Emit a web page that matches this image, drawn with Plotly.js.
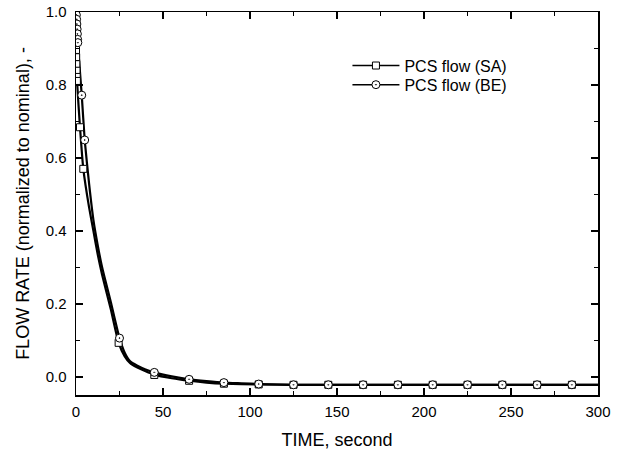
<!DOCTYPE html>
<html>
<head>
<meta charset="utf-8">
<script src="https://cdn.plot.ly/plotly-3.0.1.min.js"></script>
<style>html,body{margin:0;padding:0;background:#fff;}#chart{width:626px;height:451px;}</style>
</head>
<body>
<div id="chart"></div>
<script>
// Curve of PCS flow (SA) — time (s) and normalized flow
var saCurveT = [0, 0.6, 2.3, 4.2, 7.5, 10, 12.5, 15, 20, 24.5, 28, 31, 35, 40, 45, 55, 65, 75, 85, 105, 125, 300];
var saCurveY = [0.90, 0.81, 0.684, 0.57, 0.465, 0.40, 0.335, 0.28, 0.185, 0.093, 0.056, 0.038, 0.026, 0.015, 0.006, -0.004, -0.011, -0.016, -0.019, -0.021, -0.022, -0.022];
// Curve of PCS flow (BE)
var beCurveT = [0, 0.5, 1.0, 3.3, 5, 7.5, 10, 12.5, 15, 20, 25, 28, 31, 35, 40, 45, 55, 65, 75, 85, 95, 105, 125, 300];
var beCurveY = [1.0, 0.95, 0.915, 0.772, 0.649, 0.53, 0.43, 0.36, 0.30, 0.205, 0.106, 0.066, 0.043, 0.031, 0.02, 0.012, 0.001, -0.007, -0.012, -0.016, -0.018, -0.02, -0.022, -0.022];

// Marker points
var saMarkT = [0, 0.1, 0.2, 0.3, 0.4, 0.5, 2.3, 4.2, 24.5, 45, 65, 85, 105, 125, 145, 165, 185, 205, 225, 245, 265, 285];
var saMarkY = [0.896, 0.876, 0.857, 0.839, 0.822, 0.811, 0.684, 0.57, 0.093, 0.005, -0.011, -0.019, -0.021, -0.022, -0.022, -0.022, -0.022, -0.022, -0.022, -0.022, -0.022, -0.022];
var beMarkT = [0.2, 0.35, 0.5, 0.65, 0.8, 0.95, 1.05, 3.3, 5, 25, 45, 65, 85, 105, 125, 145, 165, 185, 205, 225, 245, 265, 285];
var beMarkY = [0.992, 0.98, 0.967, 0.953, 0.94, 0.925, 0.916, 0.772, 0.649, 0.106, 0.012, -0.007, -0.016, -0.02, -0.022, -0.022, -0.022, -0.022, -0.022, -0.022, -0.022, -0.022, -0.022];

var seriesNames = ['PCS flow (SA)', 'PCS flow (BE)'];

var FONT = 'Liberation Sans, Arial, sans-serif';
var lineStyle = {color: '#000', width: 2.2, shape: 'spline', smoothing: 0.5};
var sqMarker = {symbol: 'square', size: 7, color: '#fff', line: {color: '#000', width: 1}};
var ciMarker = {symbol: 'circle-dot', size: 8, color: '#fff', line: {color: '#000', width: 1}};

var traces = [
  {x: saCurveT, y: saCurveY, mode: 'lines', line: lineStyle, showlegend: false, hoverinfo: 'skip'},
  {x: beCurveT, y: beCurveY, mode: 'lines', line: lineStyle, showlegend: false, hoverinfo: 'skip'},
  {x: saMarkT, y: saMarkY, mode: 'markers', marker: sqMarker, showlegend: false},
  {x: beMarkT, y: beMarkY, mode: 'markers', marker: ciMarker, showlegend: false},
  {x: [null], y: [null], mode: 'lines+markers', name: seriesNames[0], line: {color: '#000', width: 1.5}, marker: sqMarker, legend: 'legend'},
  {x: [null], y: [null], mode: 'lines+markers', name: seriesNames[1], line: {color: '#000', width: 1.5}, marker: ciMarker, legend: 'legend2'}
];

var axisCommon = {
  showgrid: false, zeroline: false, showline: true, linecolor: '#000', linewidth: 1.5,
  mirror: 'ticks', ticks: 'inside', ticklen: 7, tickwidth: 1.5, tickcolor: '#000',
  tickfont: {family: FONT, size: 15, color: '#000'}
};

var legendCommon = {x: 0.52, xanchor: 'left', yanchor: 'middle', bgcolor: 'rgba(0,0,0,0)',
  font: {family: FONT, size: 16, color: '#000'}, itemwidth: 47};

var layout = {
  width: 626, height: 451,
  margin: {l: 76, r: 28, t: 12, b: 56},
  paper_bgcolor: '#fff', plot_bgcolor: '#fff',
  font: {family: FONT, color: '#000'},
  xaxis: Object.assign({}, axisCommon, {
    range: [0, 300], tickvals: [0, 50, 100, 150, 200, 250, 300], ticklabelstandoff: 2,
    minor: {tickvals: [25, 75, 125, 175, 225, 275], ticks: 'inside', ticklen: 4, tickwidth: 1.5, tickcolor: '#000'},
    title: {text: 'TIME, second', font: {family: FONT, size: 18, color: '#000'}, standoff: 15}
  }),
  yaxis: Object.assign({}, axisCommon, {
    range: [-0.05, 1.0], tickvals: [0, 0.2, 0.4, 0.6, 0.8, 1.0], tickformat: '.1f', ticklabelstandoff: 5,
    minor: {tickvals: [0.1, 0.3, 0.5, 0.7, 0.9], ticks: 'inside', ticklen: 4, tickwidth: 1.5, tickcolor: '#000'},
    title: {text: 'FLOW RATE (normalized to nominal), -', font: {family: FONT, size: 18, color: '#000'}, standoff: 11}
  }),
  legend: Object.assign({}, legendCommon, {y: 0.860}),
  legend2: Object.assign({}, legendCommon, {y: 0.810}),
  showlegend: true
};

Plotly.newPlot('chart', traces, layout, {displayModeBar: false, staticPlot: true});
</script>
</body>
</html>
